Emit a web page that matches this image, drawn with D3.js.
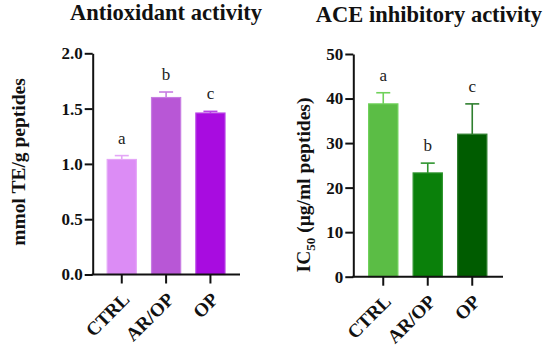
<!DOCTYPE html>
<html>
<head>
<meta charset="utf-8">
<script src="https://cdn.jsdelivr.net/npm/d3@7"></script>
<style>
  body { margin: 0; background: #fff; }
  svg text { font-family: "Liberation Serif", "Times New Roman", serif; }
  .axis path, .axis line { stroke: #111; stroke-width: 2px; }
  .axis text { font-size: 17px; font-weight: bold; fill: #111; }
</style>
</head>
<body>
<div id="chart"></div>
<script>
// data
var categories = ["CTRL", "AR/OP", "OP"];
var letters = ["a", "b", "c"];

var antioxMeans = [1.04, 1.60, 1.46];
var antioxErrors = [0.035, 0.05, 0.015];
var antioxTicks = [0.0, 0.5, 1.0, 1.5, 2.0];

var aceMeans = [38.8, 23.3, 32.0];
var aceErrors = [2.5, 2.2, 6.8];
var aceTicks = [0, 10, 20, 30, 40, 50];

var antioxFill = ["#dc8cf5", "#b857d6", "#a80ce0"];
var antioxEdge = ["#e4a6f7", "#c77de2", "#b845e6"];
var aceFill = ["#5bbd45", "#0a800a", "#005c00"];
var aceEdge = ["#6fd15a", "#2e952e", "#2f7f2f"];

var svg = d3.select("#chart")
    .append("svg")
    .attr("width", 550)
    .attr("height", 347);

function panel(cfg) {
    var xScale = d3.scaleBand()
        .domain(categories)
        .range([cfg.bandStart, cfg.bandEnd])
        .paddingInner(0.32)
        .paddingOuter(0.16);

    var yScale = d3.scaleLinear()
        .domain([0, cfg.max])
        .range([cfg.bottom, cfg.top]);

    var g = svg.append("g");

    // bars
    g.selectAll("rect.bar")
        .data(cfg.means)
        .enter()
        .append("rect")
        .attr("class", "bar")
        .attr("x", function (d, i) { return xScale(categories[i]) + 0.5; })
        .attr("y", function (d) { return yScale(d); })
        .attr("width", xScale.bandwidth() - 1)
        .attr("height", function (d) { return cfg.bottom - yScale(d); })
        .attr("fill", function (d, i) { return cfg.fill[i]; })
        .attr("stroke", function (d, i) { return cfg.edge[i]; })
        .attr("stroke-width", 1.2);

    // error bars (upper only)
    var eb = g.selectAll("g.err")
        .data(cfg.means)
        .enter()
        .append("g")
        .attr("class", "err")
        .attr("stroke", function (d, i) { return cfg.edge[i]; })
        .attr("stroke-width", 1.6);

    eb.append("line")
        .attr("x1", function (d, i) { return xScale(categories[i]) + xScale.bandwidth() / 2; })
        .attr("x2", function (d, i) { return xScale(categories[i]) + xScale.bandwidth() / 2; })
        .attr("y1", function (d) { return yScale(d); })
        .attr("y2", function (d, i) { return yScale(d + cfg.errors[i]); });

    eb.append("line")
        .attr("x1", function (d, i) { return xScale(categories[i]) + xScale.bandwidth() / 2 - 7; })
        .attr("x2", function (d, i) { return xScale(categories[i]) + xScale.bandwidth() / 2 + 7; })
        .attr("y1", function (d, i) { return yScale(d + cfg.errors[i]); })
        .attr("y2", function (d, i) { return yScale(d + cfg.errors[i]); });

    // significance letters
    g.selectAll("text.letter")
        .data(cfg.means)
        .enter()
        .append("text")
        .attr("class", "letter")
        .attr("x", function (d, i) { return xScale(categories[i]) + xScale.bandwidth() / 2; })
        .attr("y", function (d, i) { return yScale(d + cfg.errors[i]) - 12; })
        .attr("text-anchor", "middle")
        .style("font-size", "17px")
        .attr("fill", "#222")
        .text(function (d, i) { return letters[i]; });

    // y axis
    var yAxis = d3.axisLeft(yScale)
        .tickValues(cfg.ticks)
        .tickSize(8)
        .tickPadding(2)
        .tickSizeOuter(0)
        .tickFormat(cfg.format);

    g.append("g")
        .attr("class", "y axis")
        .attr("transform", "translate(" + cfg.axisX + ",0)")
        .call(yAxis);

    // x axis
    var xAxis = d3.axisBottom(xScale)
        .tickSize(9)
        .tickSizeOuter(0);

    var xg = g.append("g")
        .attr("class", "x axis")
        .attr("transform", "translate(0," + cfg.bottom + ")")
        .call(xAxis);

    xg.select("path.domain")
        .attr("d", "M" + (cfg.axisX - 1) + ",0H" + cfg.axisEnd);

    xg.selectAll(".tick text")
        .style("font-size", "19px")
        .attr("text-anchor", "end")
        .attr("dy", null)
        .attr("y", 0)
        .attr("transform", "translate(9,26) rotate(-45)");

    // title
    g.append("text")
        .attr("x", cfg.titleX)
        .attr("y", cfg.titleY)
        .attr("text-anchor", "middle")
        .style("font-size", "22.5px")
        .style("font-weight", "bold")
        .attr("fill", "#111")
        .text(cfg.title);

    // y label
    var lab = g.append("text")
        .attr("transform", "translate(" + cfg.labelX + "," + cfg.labelY + ") rotate(-90)")
        .attr("text-anchor", "middle")
        .style("font-size", "19.5px")
        .style("font-weight", "bold")
        .attr("fill", "#111");
    cfg.label(lab);
}

panel({
    means: antioxMeans, errors: antioxErrors, ticks: antioxTicks, max: 2,
    format: d3.format(".1f"), fill: antioxFill, edge: antioxEdge,
    axisX: 92.7, axisEnd: 240, bandStart: 99.6, bandEnd: 232.6,
    top: 53.3, bottom: 274.5,
    title: "Antioxidant activity", titleX: 166, titleY: 20,
    labelX: 25, labelY: 162,
    label: function (t) { t.text("mmol TE/g peptides"); }
});

panel({
    means: aceMeans, errors: aceErrors, ticks: aceTicks, max: 50,
    format: d3.format("d"), fill: aceFill, edge: aceEdge,
    axisX: 353.3, axisEnd: 503, bandStart: 361, bandEnd: 494.5,
    top: 54, bottom: 276.7,
    title: "ACE inhibitory activity", titleX: 429, titleY: 22,
    labelX: 310, labelY: 185,
    label: function (t) {
        t.append("tspan").text("IC");
        t.append("tspan").attr("dy", 5).style("font-size", "13px").text("50");
        t.append("tspan").attr("dy", -5).text(" (\u00b5g/ml peptides)");
    }
});
</script>
</body>
</html>
